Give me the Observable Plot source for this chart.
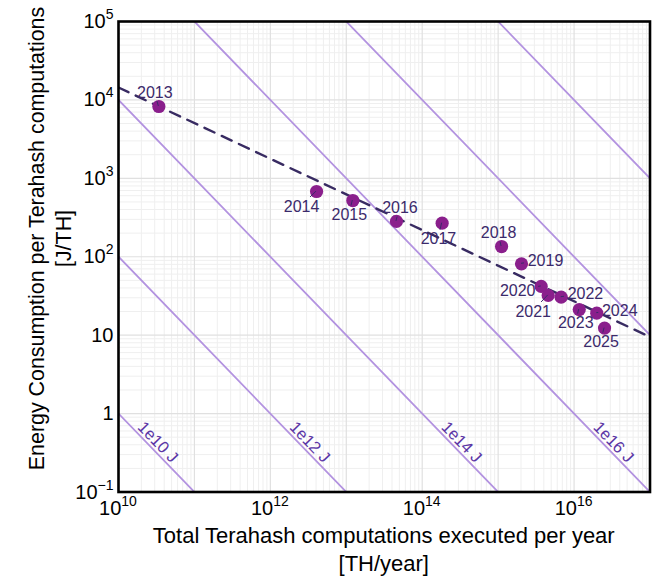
<!DOCTYPE html>
<html><head><meta charset="utf-8">
<script src="https://cdn.jsdelivr.net/npm/d3@7"></script>
<script src="https://cdn.jsdelivr.net/npm/@observablehq/plot@0.6"></script>
<style>
body{margin:0;background:#fff;}
#chart{width:657px;height:579px;}
</style></head><body><div id="chart"></div>
<script>
// ---- data ----
const years = [2013,2014,2015,2016,2017,2018,2019,2020,2021,2022,2023,2024,2025];
const computations = [3.40e10,4.06e12,1.22e13,4.58e13,1.83e14,1.11e15,2.03e15,3.69e15,4.56e15,6.76e15,1.17e16,1.99e16,2.52e16];
const energyPerTH = [8240,679,521,282,268,135,81.3,41.8,32.1,30.5,21.2,19.1,12.3];
const labelNudge = [[-4,-14],[-15,15],[-3.5,14.5],[3.5,-13.5],[-3.7,16],[-3,-13.5],[24,-3.3],[-23.5,4],[-15,16],[24.3,-3],[-3.5,13.5],[23,-2],[-3.5,14]];
const trendX = [1e10, 1e17];
const trendY = [14400, 9.5];
const isoEnergies = [1e10,1e12,1e14,1e16,1e18,1e20];
const isoLabels = ["1e10 J","1e12 J","1e14 J","1e16 J"];
const xTicks = [1e10,1e12,1e14,1e16];
const yTicks = [1e5,1e4,1e3,1e2,10,1,0.1];
const xTitle = ["Total Terahash computations executed per year","[TH/year]"];
const yTitle = ["Energy Consumption per Terahash computations","[J/TH]"];

const FONT = "'Liberation Sans', Arial, Helvetica, sans-serif";
const points = years.map((yr,i)=>({year:yr, x:computations[i], y:energyPerTH[i]}));

// grid values (decades and 2..9 subdivisions)
const xMajor=[], xMinor=[], yMajor=[], yMinor=[];
for (let d=10; d<=17; d++){ xMajor.push(10**d); if(d<17) for(let k=2;k<=9;k++) xMinor.push(k*10**d); }
for (let d=-1; d<=5; d++){ yMajor.push(10**d); if(d<5) for(let k=2;k<=9;k++) yMinor.push(k*10**d); }

const isoLines = isoEnergies.flatMap(E => [{E, x:1e10, y:E/1e10},{E, x:1e17, y:E/1e17}]);
const isoLabelData = isoLabels.map((t,i)=>({t, E:isoEnergies[i]}));

const yearMarks = points.map((p,i)=>Plot.text([p], {x:"x", y:"y", text:d=>String(d.year), dx:labelNudge[i][0], dy:labelNudge[i][1], fill:"#3b2a6b", fontSize:16}));

const chart = Plot.plot({
  width:657, height:579,
  marginLeft:118, marginRight:7.5, marginTop:21, marginBottom:87.5,
  style:{fontFamily:FONT, background:"white", overflow:"visible"},
  x:{type:"log", domain:[1e10,1e17], axis:null},
  y:{type:"log", domain:[0.1,1e5], axis:null},
  marks:[
    Plot.ruleX(xMinor, {stroke:"#efefef", strokeWidth:1}),
    Plot.ruleY(yMinor, {stroke:"#efefef", strokeWidth:1}),
    Plot.ruleX(xMajor, {stroke:"#e0e0e0", strokeWidth:1.2}),
    Plot.ruleY(yMajor, {stroke:"#e0e0e0", strokeWidth:1.2}),
    Plot.line(isoLines, {x:"x", y:"y", z:"E", stroke:"#b393e0", strokeWidth:1.8, clip:true}),
    Plot.text(isoLabelData, {x:d=>d.E*2.75, y:()=>0.364, text:"t", rotate:45.9, dx:6, dy:-5.8, fill:"#5b36a6", fontSize:16.5}),
    Plot.line(trendX.map((x,i)=>({x, y:trendY[i]})), {x:"x", y:"y", stroke:"#382b62", strokeWidth:2.4, strokeDasharray:"11,8", clip:true}),
    Plot.dot(points, {x:"x", y:"y", r:6.6, fill:"#8a1f8c", stroke:"none"}),
    ...yearMarks,
    Plot.frame({stroke:"black", strokeWidth:2.6})
  ]
});
document.getElementById("chart").appendChild(chart);

// ---- post-processing: superscript tick labels, titles, repel segments ----
const svg = d3.select(chart);
const sx = v => chart.scale("x").apply(v);
const sy = v => chart.scale("y").apply(v);

// repel segments (label -> point)
const seg = svg.append("g").attr("stroke","#3b2a6b").attr("stroke-width",1);
points.forEach((p,i)=>{
  const [ndx,ndy] = labelNudge[i];
  const hw = 21, hh = 9;
  const t = Math.min(Math.abs(ndx)>0?hw/Math.abs(ndx):Infinity, Math.abs(ndy)>0?hh/Math.abs(ndy):Infinity);
  if (t < 1) {
    const px = sx(p.x), py = sy(p.y);
    seg.append("line").attr("x1",px).attr("y1",py).attr("x2",px+ndx*(1-t)).attr("y2",py+ndy*(1-t));
  }
});
chart.insertBefore(seg.node(), chart.querySelectorAll("g[aria-label='text']")[1]);

const g = svg.append("g").attr("font-family",FONT).attr("fill","#000");
const expo = v => { const e = Math.round(Math.log10(v)); return e<0 ? "\u2212"+(-e) : String(e); };
const yBottom = sy(0.1);
xTicks.forEach(v=>{
  const t = g.append("text").attr("x",sx(v)).attr("y",yBottom+23.5).attr("text-anchor","middle").attr("font-size",20);
  t.append("tspan").text("10");
  t.append("tspan").attr("font-size",14).attr("dy",-9).text(expo(v));
});
yTicks.forEach(v=>{
  const t = g.append("text").attr("x",113.5).attr("y",sy(v)+7).attr("text-anchor","end").attr("font-size",20);
  if (v===10) t.text("10");
  else if (v===1) t.text("1");
  else { t.append("tspan").text("10"); t.append("tspan").attr("font-size",14).attr("dy",-9).text(expo(v)); }
});
const xc = (sx(1e10)+sx(1e17))/2;
xTitle.forEach((s,i)=>{
  g.append("text").attr("x",xc).attr("y",543+i*28).attr("text-anchor","middle").attr("font-size",22).text(s);
});
yTitle.forEach((s,i)=>{
  g.append("text").attr("transform",`translate(${44+i*27},238.5) rotate(-90)`).attr("text-anchor","middle").attr("font-size",21.4).text(s);
});
</script>
</body></html>
